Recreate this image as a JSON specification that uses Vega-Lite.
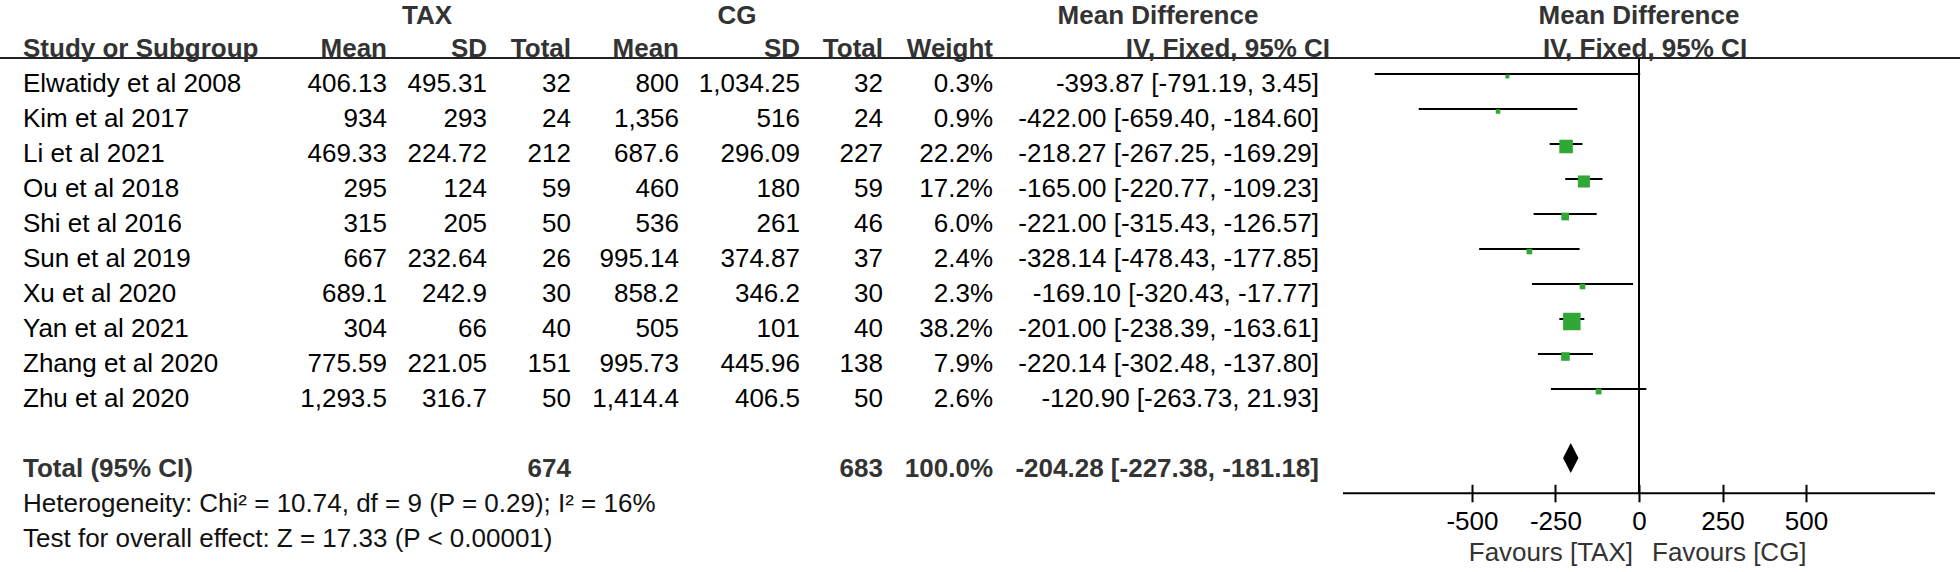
{
  "$schema": "https://vega.github.io/schema/vega-lite/v6.json",
  "width": 1960,
  "height": 572,
  "autosize": {"type": "none"},
  "padding": 0,
  "background": "#ffffff",
  "config": {"view": {"stroke": null}, "font": "Liberation Sans"},
  "datasets": {
    "heads": [
      {"row": -1, "col": 2, "label": "TAX"},
      {"row": -1, "col": 6, "label": "CG"},
      {"row": -1, "col": 10, "label": "Mean Difference"},
      {"row": 0, "col": 0, "label": "Study or Subgroup"},
      {"row": 0, "col": 1, "label": "Mean"},
      {"row": 0, "col": 3, "label": "SD"},
      {"row": 0, "col": 4, "label": "Total"},
      {"row": 0, "col": 5, "label": "Mean"},
      {"row": 0, "col": 7, "label": "SD"},
      {"row": 0, "col": 8, "label": "Total"},
      {"row": 0, "col": 9, "label": "Weight"},
      {"row": 0, "col": 12, "label": "IV, Fixed, 95% CI"}
    ],
    "studies": [
      {"row": 1, "study": "Elwatidy et al 2008", "tax_mean": 406.13, "tax_sd": 495.31, "tax_n": 32, "cg_mean": 800, "cg_sd": 1034.25, "cg_n": 32, "weight": 0.003, "md": -393.87, "lo": -791.19, "hi": 3.45, "ci": "-393.87 [-791.19, 3.45]"},
      {"row": 2, "study": "Kim et al 2017", "tax_mean": 934, "tax_sd": 293, "tax_n": 24, "cg_mean": 1356, "cg_sd": 516, "cg_n": 24, "weight": 0.009, "md": -422.0, "lo": -659.4, "hi": -184.6, "ci": "-422.00 [-659.40, -184.60]"},
      {"row": 3, "study": "Li et al 2021", "tax_mean": 469.33, "tax_sd": 224.72, "tax_n": 212, "cg_mean": 687.6, "cg_sd": 296.09, "cg_n": 227, "weight": 0.222, "md": -218.27, "lo": -267.25, "hi": -169.29, "ci": "-218.27 [-267.25, -169.29]"},
      {"row": 4, "study": "Ou et al 2018", "tax_mean": 295, "tax_sd": 124, "tax_n": 59, "cg_mean": 460, "cg_sd": 180, "cg_n": 59, "weight": 0.172, "md": -165.0, "lo": -220.77, "hi": -109.23, "ci": "-165.00 [-220.77, -109.23]"},
      {"row": 5, "study": "Shi et al 2016", "tax_mean": 315, "tax_sd": 205, "tax_n": 50, "cg_mean": 536, "cg_sd": 261, "cg_n": 46, "weight": 0.06, "md": -221.0, "lo": -315.43, "hi": -126.57, "ci": "-221.00 [-315.43, -126.57]"},
      {"row": 6, "study": "Sun et al 2019", "tax_mean": 667, "tax_sd": 232.64, "tax_n": 26, "cg_mean": 995.14, "cg_sd": 374.87, "cg_n": 37, "weight": 0.024, "md": -328.14, "lo": -478.43, "hi": -177.85, "ci": "-328.14 [-478.43, -177.85]"},
      {"row": 7, "study": "Xu et al 2020", "tax_mean": 689.1, "tax_sd": 242.9, "tax_n": 30, "cg_mean": 858.2, "cg_sd": 346.2, "cg_n": 30, "weight": 0.023, "md": -169.1, "lo": -320.43, "hi": -17.77, "ci": "-169.10 [-320.43, -17.77]"},
      {"row": 8, "study": "Yan et al 2021", "tax_mean": 304, "tax_sd": 66, "tax_n": 40, "cg_mean": 505, "cg_sd": 101, "cg_n": 40, "weight": 0.382, "md": -201.0, "lo": -238.39, "hi": -163.61, "ci": "-201.00 [-238.39, -163.61]"},
      {"row": 9, "study": "Zhang et al 2020", "tax_mean": 775.59, "tax_sd": 221.05, "tax_n": 151, "cg_mean": 995.73, "cg_sd": 445.96, "cg_n": 138, "weight": 0.079, "md": -220.14, "lo": -302.48, "hi": -137.8, "ci": "-220.14 [-302.48, -137.80]"},
      {"row": 10, "study": "Zhu et al 2020", "tax_mean": 1293.5, "tax_sd": 316.7, "tax_n": 50, "cg_mean": 1414.4, "cg_sd": 406.5, "cg_n": 50, "weight": 0.026, "md": -120.9, "lo": -263.73, "hi": 21.93, "ci": "-120.90 [-263.73, 21.93]"}
    ],
    "pooled": [
      {"row": 12, "label": "Total (95% CI)", "tax_n": 674, "cg_n": 683, "weight": 1, "md": -204.28, "lo": -227.38, "hi": -181.18, "ci": "-204.28 [-227.38, -181.18]"}
    ],
    "notes": [
      {"row": 13, "label": "Heterogeneity: Chi² = 10.74, df = 9 (P = 0.29); I² = 16%"},
      {"row": 14, "label": "Test for overall effect: Z = 17.33 (P < 0.00001)"}
    ]
  },
  "resolve": {"scale": {"x": "independent"}},
  "layer": [
    {"data": {"name": "studies"},
     "mark": {"type": "rule", "strokeWidth": 2, "color": "#000000", "yOffset": -10},
     "encoding": {
       "x": {"field": "lo", "type": "quantitative", "scale": {"domain": [-886, 886], "range": [1343, 1935], "nice": false, "zero": false},
             "axis": {"orient": "bottom", "offset": -87.7, "domain": false, "ticks": true, "tickSize": 17.5, "tickWidth": 2, "tickColor": "#000000", "values": [-500, -250, 0, 250, 500], "labelExpr": "'' + datum.value", "labelFontSize": 26, "labelColor": "#000000", "labelPadding": 7, "labelFlush": false, "labelOverlap": false, "grid": false, "title": null}},
       "x2": {"field": "hi"},
       "y": {"field": "row", "type": "quantitative", "scale": {"domain": [-1.4, 14.943], "reverse": true, "nice": false, "zero": false}, "axis": null}}},
    {"data": {"values": [{}]},
     "mark": {"type": "rule", "strokeWidth": 2, "color": "#222222"},
     "encoding": {"y": {"datum": 0.257, "type": "quantitative", "axis": null}}},
    {"data": {"values": [{}]},
     "mark": {"type": "rule", "strokeWidth": 2, "color": "#000000"},
     "encoding": {"x": {"datum": 0, "type": "quantitative", "scale": {"domain": [-886, 886], "range": [1343, 1935], "nice": false, "zero": false}, "axis": null},
                  "y": {"datum": 0.257, "type": "quantitative", "axis": null}, "y2": {"datum": 12.694}}},
    {"data": {"values": [{}]},
     "mark": {"type": "rule", "strokeWidth": 2, "color": "#000000"},
     "encoding": {"x": {"datum": -886, "type": "quantitative", "scale": {"domain": [-886, 886], "range": [1343, 1935], "nice": false, "zero": false}, "axis": null},
                  "x2": {"datum": 886}, "y": {"datum": 12.694, "type": "quantitative", "axis": null}}},
    {"data": {"name": "studies"},
     "mark": {"type": "square", "filled": true, "opacity": 1, "color": "#31a836", "yOffset": -7.5},
     "encoding": {"x": {"field": "md", "type": "quantitative", "scale": {"domain": [-886, 886], "range": [1343, 1935], "nice": false, "zero": false}, "axis": null},
                  "y": {"field": "row", "type": "quantitative", "axis": null},
                  "size": {"field": "weight", "type": "quantitative", "scale": {"domain": [0.003, 0.382], "range": [16, 306], "zero": false}, "legend": null}}},
    {"data": {"name": "pooled"},
     "mark": {"type": "point", "shape": "M0,-1L0.513,0L0,1L-0.513,0Z", "size": 900, "filled": true, "opacity": 1, "color": "#000000", "yOffset": -11},
     "encoding": {"x": {"field": "md", "type": "quantitative", "scale": {"domain": [-886, 886], "range": [1343, 1935], "nice": false, "zero": false}, "axis": null},
                  "y": {"field": "row", "type": "quantitative", "axis": null}}},
    {"data": {"values": [{}]},
     "mark": {"type": "text", "text": "Mean Difference", "align": "center", "baseline": "middle", "fontSize": 26, "fontWeight": "bold", "color": "#333333", "yOffset": 2},
     "encoding": {"x": {"datum": 0, "type": "quantitative", "scale": {"domain": [-886, 886], "range": [1343, 1935], "nice": false, "zero": false}, "axis": null},
                  "y": {"datum": -1, "type": "quantitative", "axis": null}}},
    {"data": {"values": [{}]},
     "mark": {"type": "text", "text": "IV, Fixed, 95% CI", "align": "center", "baseline": "middle", "fontSize": 26, "fontWeight": "bold", "color": "#333333", "dx": 6},
     "encoding": {"x": {"datum": 0, "type": "quantitative", "scale": {"domain": [-886, 886], "range": [1343, 1935], "nice": false, "zero": false}, "axis": null},
                  "y": {"datum": 0, "type": "quantitative", "axis": null}}},
    {"data": {"values": [{}]},
     "mark": {"type": "text", "text": "Favours [TAX]", "align": "right", "baseline": "middle", "fontSize": 26, "color": "#333333", "dx": -6},
     "encoding": {"x": {"datum": 0, "type": "quantitative", "scale": {"domain": [-886, 886], "range": [1343, 1935], "nice": false, "zero": false}, "axis": null},
                  "y": {"datum": 14.406, "type": "quantitative", "axis": null}}},
    {"data": {"values": [{}]},
     "mark": {"type": "text", "text": "Favours [CG]", "align": "left", "baseline": "middle", "fontSize": 26, "color": "#333333", "dx": 13},
     "encoding": {"x": {"datum": 0, "type": "quantitative", "scale": {"domain": [-886, 886], "range": [1343, 1935], "nice": false, "zero": false}, "axis": null},
                  "y": {"datum": 14.406, "type": "quantitative", "axis": null}}},
    {"data": {"name": "heads"}, "transform": [{"filter": "datum.row < 0"}],
     "mark": {"type": "text", "align": "center", "baseline": "middle", "fontSize": 26, "fontWeight": "bold", "color": "#333333", "yOffset": 2},
     "encoding": {"x": {"field": "col", "type": "quantitative", "scale": {"domain": [0,1,2,3,4,5,6,7,8,9,10,11,12], "range": [23,387,427,487,571,679,737,800,883,993,1158,1319,1330], "nice": false, "zero": false}, "axis": null},
                  "y": {"field": "row", "type": "quantitative", "axis": null},
                  "text": {"field": "label", "type": "nominal"}}},
    {"data": {"name": "heads"}, "transform": [{"filter": "datum.row == 0 && datum.col > 0"}],
     "mark": {"type": "text", "align": "right", "baseline": "middle", "fontSize": 26, "fontWeight": "bold", "color": "#333333"},
     "encoding": {"x": {"field": "col", "type": "quantitative", "scale": {"domain": [0,1,2,3,4,5,6,7,8,9,10,11,12], "range": [23,387,427,487,571,679,737,800,883,993,1158,1319,1330], "nice": false, "zero": false}, "axis": null},
                  "y": {"field": "row", "type": "quantitative", "axis": null}, "text": {"field": "label", "type": "nominal"}}},
    {"data": {"name": "heads"}, "transform": [{"filter": "datum.row == 0 && datum.col == 0"}],
     "mark": {"type": "text", "align": "left", "baseline": "middle", "fontSize": 26, "fontWeight": "bold", "color": "#333333"},
     "encoding": {"x": {"field": "col", "type": "quantitative", "scale": {"domain": [0,1,2,3,4,5,6,7,8,9,10,11,12], "range": [23,387,427,487,571,679,737,800,883,993,1158,1319,1330], "nice": false, "zero": false}, "axis": null},
                  "y": {"field": "row", "type": "quantitative", "axis": null}, "text": {"field": "label", "type": "nominal"}}},
    {"data": {"name": "studies"},
     "mark": {"type": "text", "align": "left", "baseline": "middle", "fontSize": 26, "color": "#000000"},
     "encoding": {"x": {"datum": 0, "type": "quantitative", "scale": {"domain": [0,1,2,3,4,5,6,7,8,9,10,11,12], "range": [23,387,427,487,571,679,737,800,883,993,1158,1319,1330], "nice": false, "zero": false}, "axis": null},
                  "y": {"field": "row", "type": "quantitative", "axis": null}, "text": {"field": "study", "type": "nominal"}}},
    {"data": {"name": "studies"},
     "mark": {"type": "text", "align": "right", "baseline": "middle", "fontSize": 26, "color": "#000000"},
     "encoding": {"x": {"datum": 1, "type": "quantitative", "scale": {"domain": [0,1,2,3,4,5,6,7,8,9,10,11,12], "range": [23,387,427,487,571,679,737,800,883,993,1158,1319,1330], "nice": false, "zero": false}, "axis": null},
                  "y": {"field": "row", "type": "quantitative", "axis": null}, "text": {"field": "tax_mean", "type": "quantitative", "format": ","}}},
    {"data": {"name": "studies"},
     "mark": {"type": "text", "align": "right", "baseline": "middle", "fontSize": 26, "color": "#000000"},
     "encoding": {"x": {"datum": 3, "type": "quantitative", "scale": {"domain": [0,1,2,3,4,5,6,7,8,9,10,11,12], "range": [23,387,427,487,571,679,737,800,883,993,1158,1319,1330], "nice": false, "zero": false}, "axis": null},
                  "y": {"field": "row", "type": "quantitative", "axis": null}, "text": {"field": "tax_sd", "type": "quantitative", "format": ","}}},
    {"data": {"name": "studies"},
     "mark": {"type": "text", "align": "right", "baseline": "middle", "fontSize": 26, "color": "#000000"},
     "encoding": {"x": {"datum": 4, "type": "quantitative", "scale": {"domain": [0,1,2,3,4,5,6,7,8,9,10,11,12], "range": [23,387,427,487,571,679,737,800,883,993,1158,1319,1330], "nice": false, "zero": false}, "axis": null},
                  "y": {"field": "row", "type": "quantitative", "axis": null}, "text": {"field": "tax_n", "type": "quantitative", "format": ","}}},
    {"data": {"name": "studies"},
     "mark": {"type": "text", "align": "right", "baseline": "middle", "fontSize": 26, "color": "#000000"},
     "encoding": {"x": {"datum": 5, "type": "quantitative", "scale": {"domain": [0,1,2,3,4,5,6,7,8,9,10,11,12], "range": [23,387,427,487,571,679,737,800,883,993,1158,1319,1330], "nice": false, "zero": false}, "axis": null},
                  "y": {"field": "row", "type": "quantitative", "axis": null}, "text": {"field": "cg_mean", "type": "quantitative", "format": ","}}},
    {"data": {"name": "studies"},
     "mark": {"type": "text", "align": "right", "baseline": "middle", "fontSize": 26, "color": "#000000"},
     "encoding": {"x": {"datum": 7, "type": "quantitative", "scale": {"domain": [0,1,2,3,4,5,6,7,8,9,10,11,12], "range": [23,387,427,487,571,679,737,800,883,993,1158,1319,1330], "nice": false, "zero": false}, "axis": null},
                  "y": {"field": "row", "type": "quantitative", "axis": null}, "text": {"field": "cg_sd", "type": "quantitative", "format": ","}}},
    {"data": {"name": "studies"},
     "mark": {"type": "text", "align": "right", "baseline": "middle", "fontSize": 26, "color": "#000000"},
     "encoding": {"x": {"datum": 8, "type": "quantitative", "scale": {"domain": [0,1,2,3,4,5,6,7,8,9,10,11,12], "range": [23,387,427,487,571,679,737,800,883,993,1158,1319,1330], "nice": false, "zero": false}, "axis": null},
                  "y": {"field": "row", "type": "quantitative", "axis": null}, "text": {"field": "cg_n", "type": "quantitative", "format": ","}}},
    {"data": {"name": "studies"},
     "mark": {"type": "text", "align": "right", "baseline": "middle", "fontSize": 26, "color": "#000000"},
     "encoding": {"x": {"datum": 9, "type": "quantitative", "scale": {"domain": [0,1,2,3,4,5,6,7,8,9,10,11,12], "range": [23,387,427,487,571,679,737,800,883,993,1158,1319,1330], "nice": false, "zero": false}, "axis": null},
                  "y": {"field": "row", "type": "quantitative", "axis": null}, "text": {"field": "weight", "type": "quantitative", "format": ".1%"}}},
    {"data": {"name": "studies"},
     "mark": {"type": "text", "align": "right", "baseline": "middle", "fontSize": 26, "color": "#000000"},
     "encoding": {"x": {"datum": 11, "type": "quantitative", "scale": {"domain": [0,1,2,3,4,5,6,7,8,9,10,11,12], "range": [23,387,427,487,571,679,737,800,883,993,1158,1319,1330], "nice": false, "zero": false}, "axis": null},
                  "y": {"field": "row", "type": "quantitative", "axis": null}, "text": {"field": "ci", "type": "nominal"}}},
    {"data": {"name": "pooled"},
     "mark": {"type": "text", "align": "left", "baseline": "middle", "fontSize": 26, "fontWeight": "bold", "color": "#333333"},
     "encoding": {"x": {"datum": 0, "type": "quantitative", "scale": {"domain": [0,1,2,3,4,5,6,7,8,9,10,11,12], "range": [23,387,427,487,571,679,737,800,883,993,1158,1319,1330], "nice": false, "zero": false}, "axis": null},
                  "y": {"field": "row", "type": "quantitative", "axis": null}, "text": {"field": "label", "type": "nominal"}}},
    {"data": {"name": "pooled"},
     "mark": {"type": "text", "align": "right", "baseline": "middle", "fontSize": 26, "fontWeight": "bold", "color": "#333333"},
     "encoding": {"x": {"datum": 4, "type": "quantitative", "scale": {"domain": [0,1,2,3,4,5,6,7,8,9,10,11,12], "range": [23,387,427,487,571,679,737,800,883,993,1158,1319,1330], "nice": false, "zero": false}, "axis": null},
                  "y": {"field": "row", "type": "quantitative", "axis": null}, "text": {"field": "tax_n", "type": "quantitative", "format": ","}}},
    {"data": {"name": "pooled"},
     "mark": {"type": "text", "align": "right", "baseline": "middle", "fontSize": 26, "fontWeight": "bold", "color": "#333333"},
     "encoding": {"x": {"datum": 8, "type": "quantitative", "scale": {"domain": [0,1,2,3,4,5,6,7,8,9,10,11,12], "range": [23,387,427,487,571,679,737,800,883,993,1158,1319,1330], "nice": false, "zero": false}, "axis": null},
                  "y": {"field": "row", "type": "quantitative", "axis": null}, "text": {"field": "cg_n", "type": "quantitative", "format": ","}}},
    {"data": {"name": "pooled"},
     "mark": {"type": "text", "align": "right", "baseline": "middle", "fontSize": 26, "fontWeight": "bold", "color": "#333333"},
     "encoding": {"x": {"datum": 9, "type": "quantitative", "scale": {"domain": [0,1,2,3,4,5,6,7,8,9,10,11,12], "range": [23,387,427,487,571,679,737,800,883,993,1158,1319,1330], "nice": false, "zero": false}, "axis": null},
                  "y": {"field": "row", "type": "quantitative", "axis": null}, "text": {"field": "weight", "type": "quantitative", "format": ".1%"}}},
    {"data": {"name": "pooled"},
     "mark": {"type": "text", "align": "right", "baseline": "middle", "fontSize": 26, "fontWeight": "bold", "color": "#333333"},
     "encoding": {"x": {"datum": 11, "type": "quantitative", "scale": {"domain": [0,1,2,3,4,5,6,7,8,9,10,11,12], "range": [23,387,427,487,571,679,737,800,883,993,1158,1319,1330], "nice": false, "zero": false}, "axis": null},
                  "y": {"field": "row", "type": "quantitative", "axis": null}, "text": {"field": "ci", "type": "nominal"}}},
    {"data": {"name": "notes"},
     "mark": {"type": "text", "align": "left", "baseline": "middle", "fontSize": 26, "color": "#111111"},
     "encoding": {"x": {"datum": 0, "type": "quantitative", "scale": {"domain": [0,1,2,3,4,5,6,7,8,9,10,11,12], "range": [23,387,427,487,571,679,737,800,883,993,1158,1319,1330], "nice": false, "zero": false}, "axis": null},
                  "y": {"field": "row", "type": "quantitative", "axis": null}, "text": {"field": "label", "type": "nominal"}}}
  ]
}
